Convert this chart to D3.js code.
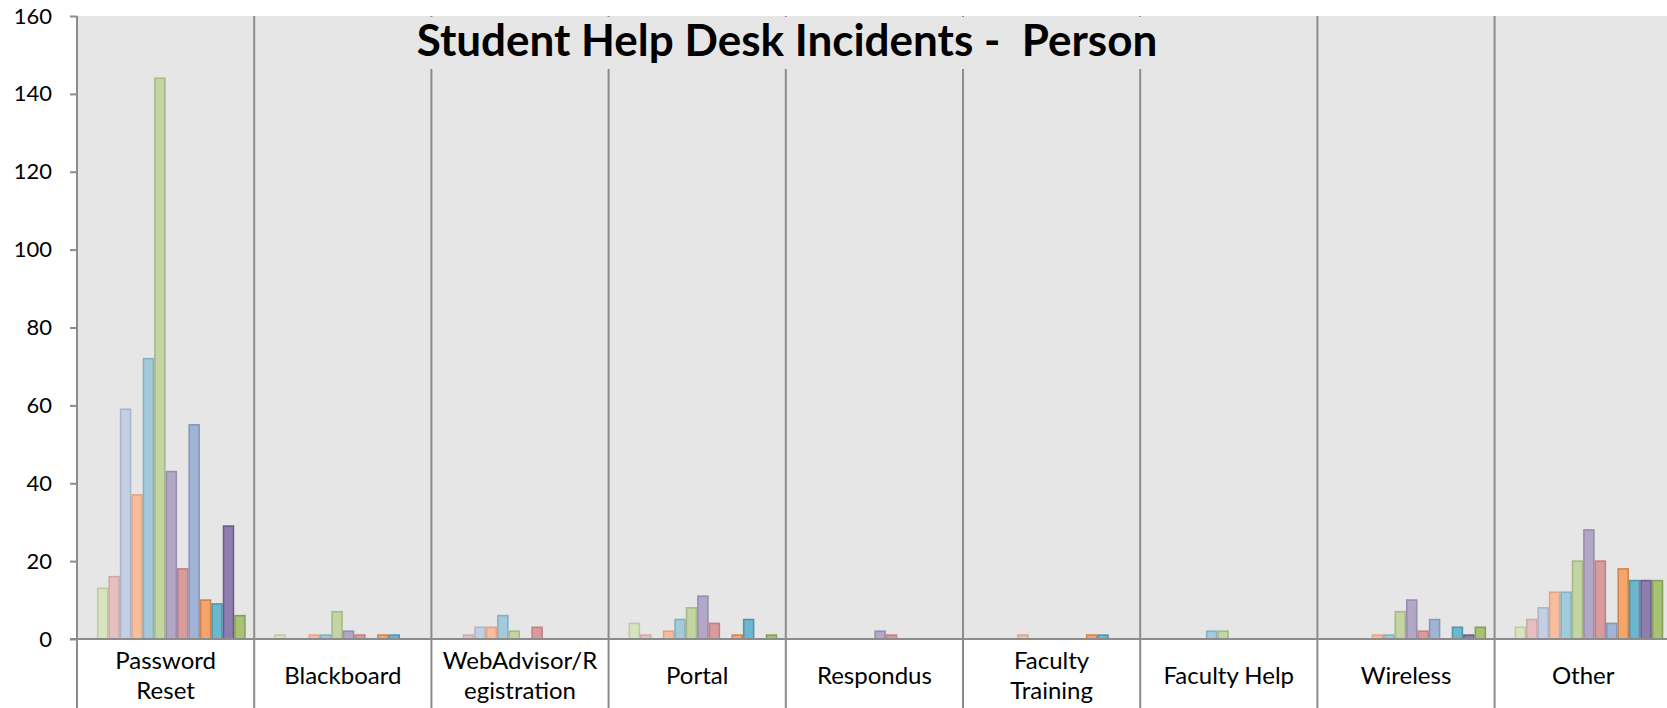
<!DOCTYPE html>
<html>
<head>
<meta charset="utf-8">
<script src="https://cdnjs.cloudflare.com/ajax/libs/d3/7.8.5/d3.min.js"></script>
<style>
  html, body { margin: 0; padding: 0; background: #fff; }
  svg { display: block; font-family: Lato, "Open Sans", sans-serif; }
</style>
</head>
<body>
<svg width="1667" height="708"></svg>
<script>
  'use strict';

  // categories on the x axis (\n = line break in the label)
  const categories = [
    'Password\nReset', 'Blackboard', 'WebAdvisor/R\negistration', 'Portal',
    'Respondus', 'Faculty\nTraining', 'Faculty Help', 'Wireless', 'Other'
  ];

  // one series per month, 14 in all (the first one is empty everywhere)
  const seriesNames = ['s0', 's1', 's2', 's3', 's4', 's5', 's6', 's7', 's8', 's9', 's10', 's11', 's12', 's13'];

  // values per category, one number per series
  const passwordReset   = [0, 13, 16, 59, 37, 72, 144, 43, 18, 55, 10, 9, 29, 6];
  const blackboard      = [0, 1, 0, 0, 1, 1, 7, 2, 1, 0, 1, 1, 0, 0];
  const webAdvisor      = [0, 0, 1, 3, 3, 6, 2, 0, 3, 0, 0, 0, 0, 0];
  const portal          = [0, 4, 1, 0, 2, 5, 8, 11, 4, 0, 1, 5, 0, 1];
  const respondus       = [0, 0, 0, 0, 0, 0, 0, 2, 1, 0, 0, 0, 0, 0];
  const facultyTraining = [0, 0, 0, 0, 1, 0, 0, 0, 0, 0, 1, 1, 0, 0];
  const facultyHelp     = [0, 0, 0, 0, 0, 2, 2, 0, 0, 0, 0, 0, 0, 0];
  const wireless        = [0, 0, 0, 0, 1, 1, 7, 10, 2, 5, 0, 3, 1, 3];
  const other           = [0, 3, 5, 8, 12, 12, 20, 28, 20, 4, 18, 15, 15, 15];

  const yTicks = [0, 20, 40, 60, 80, 100, 120, 140, 160];

  const title = 'Student Help Desk Incidents -  Person';

  const valuesByCategory = [
    passwordReset, blackboard, webAdvisor, portal, respondus,
    facultyTraining, facultyHelp, wireless, other
  ];

  // fill / border per series (older months are washed out)
  const fills = ['#4f81bd', '#d7e4bd', '#e6bfc0', '#c5cfe4', '#f8bd9c', '#a3cadb', '#c3d5a2',
    '#b2a7c7', '#d99b9b', '#a1b3d6', '#f6a66a', '#6cb6ce', '#8f7daf', '#a8c274'];
  const strokes = ['#3a6596', '#bccba2', '#d2a9aa', '#aab6cf', '#e0a585', '#87b0c2', '#a6b987',
    '#978dae', '#c08283', '#8698bb', '#cf8550', '#4f97ae', '#6d5d8e', '#86a155'];

  const svg = d3.select('svg');

  const margin = { left: 77, top: 16 };
  const plotBottom = 639;
  const bandWidth = 177.2;
  const plotBg = '#e6e6e6';

  const x = d3.scaleBand()
    .domain(categories)
    .range([margin.left, margin.left + bandWidth * categories.length])
    .padding(0);

  // Excel default gap width 150% -> 0.75 bar each side
  const xInner = d3.scaleBand()
    .domain(seriesNames)
    .range([0, x.bandwidth()])
    .paddingInner(0)
    .paddingOuter(0.75);

  const y = d3.scaleLinear()
    .domain([0, 160])
    .range([plotBottom, margin.top]);

  const gridColor = '#8c8c8c';

  // plot background
  svg.append('rect')
    .attr('x', margin.left)
    .attr('y', margin.top)
    .attr('width', 1667 - margin.left)
    .attr('height', plotBottom - margin.top)
    .attr('fill', plotBg);

  // bars
  const groups = svg.selectAll('g.cat')
    .data(categories)
    .enter()
    .append('g')
    .attr('class', 'cat')
    .attr('transform', d => `translate(${x(d)},0)`);

  groups.selectAll('rect')
    .data((d, i) => valuesByCategory[i]
      .map((v, j) => ({ series: seriesNames[j], idx: j, value: v }))
      .filter(e => e.value > 0))
    .enter()
    .append('rect')
    .attr('x', d => xInner(d.series) + 0.75)
    .attr('y', d => y(d.value))
    .attr('width', xInner.bandwidth() - 1.5)
    .attr('height', d => plotBottom - y(d.value))
    .attr('fill', d => fills[d.idx])
    .attr('stroke', d => strokes[d.idx])
    .attr('stroke-width', 1.6);

  // category divider lines (run through the label area to the bottom)
  svg.selectAll('line.divider')
    .data(categories.slice(1))
    .enter()
    .append('line')
    .attr('class', 'divider')
    .attr('x1', d => x(d))
    .attr('x2', d => x(d))
    .attr('y1', margin.top)
    .attr('y2', 708)
    .attr('stroke', gridColor)
    .attr('stroke-width', 2);

  // x axis line
  svg.append('line')
    .attr('x1', margin.left - 7)
    .attr('x2', 1667)
    .attr('y1', plotBottom)
    .attr('y2', plotBottom)
    .attr('stroke', gridColor)
    .attr('stroke-width', 2);

  // y axis
  const yAxis = d3.axisLeft(y)
    .tickValues(yTicks)
    .tickSize(7)
    .tickPadding(18);

  const yAxisG = svg.append('g')
    .attr('transform', `translate(${margin.left},0)`)
    .call(yAxis);

  yAxisG.select('.domain').remove();
  yAxisG.selectAll('.tick line')
    .attr('stroke', gridColor)
    .attr('stroke-width', 2);
  yAxisG.selectAll('.tick text')
    .attr('fill', '#000')
    .style('font-size', '22px')
    .style('font-family', 'Lato, sans-serif');

  svg.append('line')
    .attr('x1', margin.left)
    .attr('x2', margin.left)
    .attr('y1', margin.top)
    .attr('y2', 708)
    .attr('stroke', gridColor)
    .attr('stroke-width', 2);

  // category labels
  const labels = svg.selectAll('text.cat-label')
    .data(categories)
    .enter()
    .append('text')
    .attr('class', 'cat-label')
    .attr('text-anchor', 'middle')
    .attr('font-size', 24)
    .attr('fill', '#000');

  labels.each(function (d) {
    const lines = d.split('\n');
    const cx = x(d) + x.bandwidth() / 2;
    const firstBaseline = lines.length > 1 ? 669 : 684;
    d3.select(this).selectAll('tspan')
      .data(lines)
      .enter()
      .append('tspan')
      .attr('x', cx)
      .attr('y', (l, i) => firstBaseline + i * 30)
      .text(l => l);
  });

  // title, in a box filled like the plot so the dividers stop behind it
  const titleBox = svg.append('rect')
    .attr('fill', plotBg);

  const titleText = svg.append('text')
    .attr('x', 787)
    .attr('y', 56)
    .attr('text-anchor', 'middle')
    .attr('font-size', 44)
    .attr('font-weight', 'bold')
    .attr('fill', '#000')
    .style('white-space', 'pre')
    .text(title);

  const tw = titleText.node().getComputedTextLength();
  titleBox
    .attr('x', 787 - tw / 2 - 8)
    .attr('y', margin.top + 1)
    .attr('width', tw + 16)
    .attr('height', 52);
</script>
</body>
</html>
